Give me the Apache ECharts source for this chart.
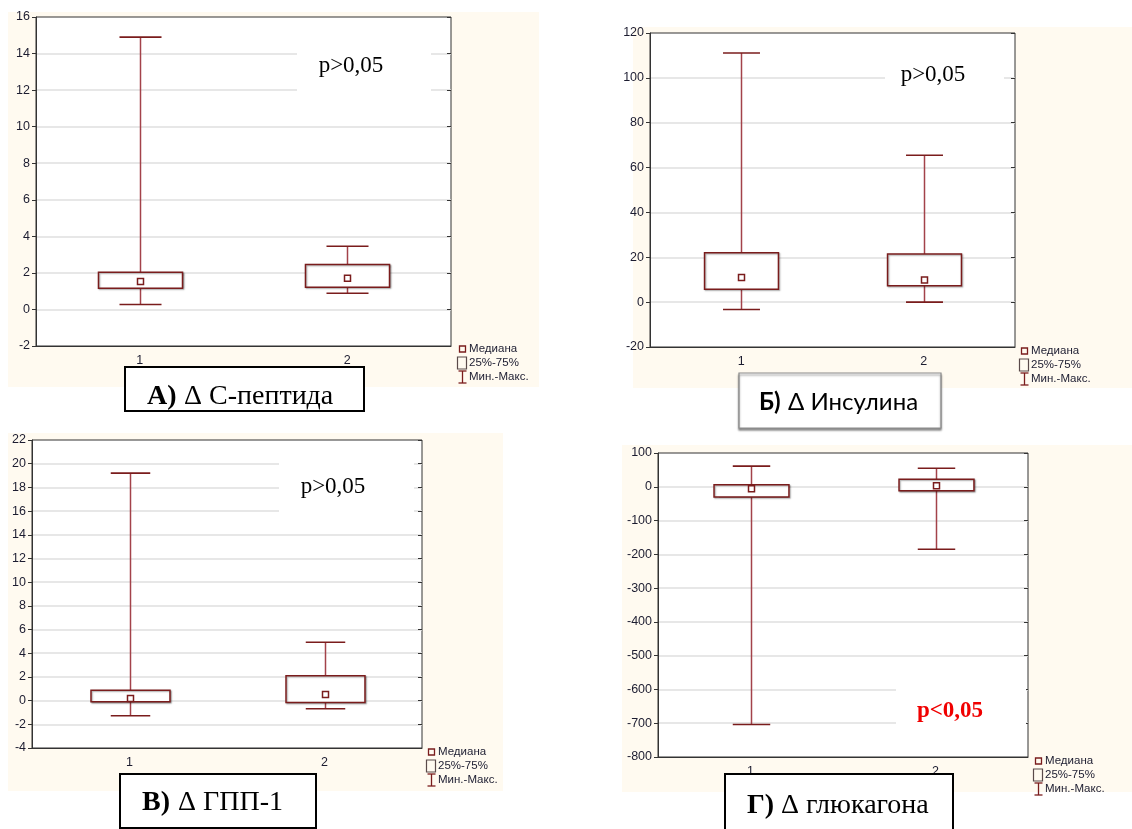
<!DOCTYPE html>
<html><head><meta charset="utf-8">
<script src="https://cdn.jsdelivr.net/npm/echarts@6/dist/echarts.min.js"></script>
<style>html,body{margin:0;padding:0;background:#fff}#c{width:1132px;height:829px}</style>
</head><body><div id="c"></div>
<script>
// ---- data ----
const categories = ['1', '2'];

// А) Δ С-пептида
const aMin = [0.27, 0.89];
const aQ1  = [1.16, 1.22];
const aMed = [1.53, 1.71];
const aQ3  = [2.04, 2.46];
const aMax = [14.9, 3.46];
const aAxis = [-2, 16, 2]; // min, max, interval

// Б) Δ Инсулина
const bMin = [-3.3, 0.0];
const bQ1  = [5.8, 7.3];
const bMed = [11.0, 9.9];
const bQ3  = [22.0, 21.5];
const bMax = [111.1, 65.5];
const bAxis = [-20, 120, 20];

// В) Δ ГПП-1
const vMin = [-1.28, -0.69];
const vQ1  = [-0.1, -0.16];
const vMed = [0.18, 0.51];
const vQ3  = [0.88, 2.09];
const vMax = [19.2, 4.93];
const vAxis = [-4, 22, 2];

// Г) Δ глюкагона
const gMin = [-704, -185];
const gQ1  = [-30.5, -11.6];
const gMed = [-5.6, 3];
const gQ3  = [6, 22];
const gMax = [61, 55];
const gAxis = [-800, 100, 100];

const legendLabels = ['Медиана', '25%-75%', 'Мин.-Макс.'];
const pTexts = ['p>0,05', 'p>0,05', 'p>0,05', 'p<0,05'];
const titleLetters = ['А)', 'Б)', 'В)', 'Г)'];
const titleNames = ['Δ С-пептида', 'Δ Инсулина', 'Δ ГПП-1', 'Δ глюкагона'];

// ---- layout / style ----
const BOX = '#7a1c1c', WH = '#a3424a', LBL = '#1c1c30';
const SANS = '"Liberation Sans", Arial, sans-serif';
const SERIF = '"Liberation Serif", "Times New Roman", serif';
const panels = [
  {d:[aMin,aQ1,aMed,aQ3,aMax], ax:aAxis, grid:{left:36,top:17,width:415,height:329},
   bg:[8,12,531,375], mask:[297,42,134,60], pPos:[351,66], pStyle:{fill:'#000',fontWeight:'normal'},
   leg:[459,349], title:{box:[125,367,239,44], y:397, x1:147, x2:184, style:'serif'}},
  {d:[bMin,bQ1,bMed,bQ3,bMax], ax:bAxis, grid:{left:650,top:33,width:365,height:314},
   bg:[633,27,499,361], mask:[885,55,119,45], pPos:[933,75], pStyle:{fill:'#000',fontWeight:'normal'},
   leg:[1021,351], title:{box:[739,373,202,55], y:402, x1:759, x2:788, style:'sans'}},
  {d:[vMin,vQ1,vMed,vQ3,vMax], ax:vAxis, grid:{left:32,top:440,width:390,height:308},
   bg:[8,433,495,358], mask:[279,452,135,66], pPos:[333,487], pStyle:{fill:'#000',fontWeight:'normal'},
   leg:[428,752], title:{box:[120,774,196,54], y:803, x1:142, x2:178, style:'serif'}},
  {d:[gMin,gQ1,gMed,gQ3,gMax], ax:gAxis, grid:{left:658,top:453,width:370,height:304},
   bg:[622,445,510,347], mask:[896,676,130,64], pPos:[950,711], pStyle:{fill:'#f00000',fontWeight:'bold'},
   leg:[1035,761], title:{box:[725,774,228,60], y:806, x1:747, x2:781, style:'serif'}}
];

function renderBox(params, api) {
  const x = api.value(0);
  const mn = api.value(1), q1 = api.value(2), md = api.value(3), q3 = api.value(4), mx = api.value(5);
  const pMax = api.coord([x, mx]), pQ3 = api.coord([x, q3]), pMd = api.coord([x, md]);
  const pQ1 = api.coord([x, q1]), pMin = api.coord([x, mn]);
  const bw = api.size([1, 0])[0] * 0.405;
  const cw = bw * 0.5;
  const cx = Math.round(pMax[0]) + 0.5;
  const ls = {stroke: WH, lineWidth: 1.5};
  return {type: 'group', children: [
    {type:'line', shape:{x1:cx,y1:pMax[1],x2:cx,y2:pQ3[1]}, style:ls},
    {type:'line', shape:{x1:cx,y1:pQ1[1],x2:cx,y2:pMin[1]}, style:ls},
    {type:'line', shape:{x1:cx-cw/2,y1:pMax[1],x2:cx+cw/2,y2:pMax[1]}, style:{stroke:BOX,lineWidth:1.6}},
    {type:'line', shape:{x1:cx-cw/2,y1:pMin[1],x2:cx+cw/2,y2:pMin[1]}, style:{stroke:BOX,lineWidth:1.6}},
    {type:'rect', shape:{x:cx-bw/2,y:pQ3[1],width:bw,height:pQ1[1]-pQ3[1]},
     style:{fill:'#fff',stroke:BOX,lineWidth:1.5,shadowColor:'rgba(0,0,0,0.35)',shadowBlur:1.5,shadowOffsetX:1,shadowOffsetY:1}},
    {type:'rect', shape:{x:cx-3,y:pMd[1]-3,width:6,height:6}, style:{fill:'#fff',stroke:BOX,lineWidth:1.5}}
  ]};
}

const grid = [], xAxis = [], yAxis = [], series = [], graphic = [];
panels.forEach((p, i) => {
  grid.push(Object.assign({show:true, backgroundColor:'#fff', borderColor:'#333', borderWidth:1, z:3}, p.grid));
  xAxis.push({type:'category', data:categories, gridIndex:i, z:5,
    axisLine:{onZero:false, lineStyle:{color:'#333'}},
    axisTick:{alignWithLabel:true, length:4, lineStyle:{color:'#333'}},
    axisLabel:{color:LBL, fontFamily:SANS, fontSize:12.5, margin:8}});
  xAxis.push({type:'category', data:categories, gridIndex:i, position:'top', z:5,
    axisLine:{show:false}, axisTick:{alignWithLabel:true, inside:true, length:4, lineStyle:{color:'#333'}},
    axisLabel:{show:false}});
  yAxis.push({type:'value', gridIndex:i, min:p.ax[0], max:p.ax[1], interval:p.ax[2], z:5,
    axisLine:{show:true, lineStyle:{color:'#333'}},
    axisTick:{show:true, length:4, lineStyle:{color:'#333'}},
    axisLabel:{color:LBL, fontFamily:SANS, fontSize:12.5, margin:6},
    splitLine:{show:true, showMinLine:false, showMaxLine:false, lineStyle:{color:'#dfdfdf', width:1.7}}});
  yAxis.push({type:'value', gridIndex:i, min:p.ax[0], max:p.ax[1], interval:p.ax[2], position:'right', z:5,
    axisLine:{show:false}, axisTick:{show:true, inside:true, length:4, lineStyle:{color:'#333'}},
    axisLabel:{show:false}, splitLine:{show:false}});
  const [mn, q1, md, q3, mx] = p.d;
  series.push({type:'custom', xAxisIndex:2*i, yAxisIndex:2*i, z:10, renderItem:renderBox,
    encode:{x:0, y:[1,2,3,4,5]}, clip:false,
    data: categories.map((c, k) => [k, mn[k], q1[k], md[k], q3[k], mx[k]])});

  // backgrounds
  graphic.push({type:'rect', z:1, silent:true, shape:{x:p.bg[0],y:p.bg[1],width:p.bg[2],height:p.bg[3]}, style:{fill:'#fffaf0'}});
  // p-value label with white mask
  graphic.push({type:'rect', z:7, silent:true, shape:{x:p.mask[0],y:p.mask[1],width:p.mask[2],height:p.mask[3]}, style:{fill:'#fff'}});
  graphic.push({type:'text', z:8, x:p.pPos[0], y:p.pPos[1], style:{text:pTexts[i], fontFamily:SERIF, fontSize:23,
    fontWeight:p.pStyle.fontWeight, fill:p.pStyle.fill, align:'center', verticalAlign:'middle'}});
  // legend
  const lx = p.leg[0], ly = p.leg[1];
  graphic.push({type:'rect', z:8, shape:{x:lx+0.5,y:ly-3,width:6,height:6}, style:{fill:'none',stroke:BOX,lineWidth:1.3}});
  graphic.push({type:'rect', z:8, shape:{x:lx-1.5,y:ly+14-6,width:9,height:12}, style:{fill:'none',stroke:'#5a4a4a',lineWidth:1.2}});
  graphic.push({type:'line', z:8, shape:{x1:lx+3.5,y1:ly+28-6,x2:lx+3.5,y2:ly+28+6}, style:{stroke:BOX,lineWidth:1.3}});
  graphic.push({type:'line', z:8, shape:{x1:lx-0.5,y1:ly+28-6,x2:lx+7.5,y2:ly+28-6}, style:{stroke:BOX,lineWidth:1.3}});
  graphic.push({type:'line', z:8, shape:{x1:lx-0.5,y1:ly+28+6,x2:lx+7.5,y2:ly+28+6}, style:{stroke:BOX,lineWidth:1.3}});
  legendLabels.forEach((t, k) => {
    graphic.push({type:'text', z:8, x:lx+10, y:ly+k*14, style:{text:t, fontFamily:SANS, fontSize:11.5, fill:LBL, verticalAlign:'middle'}});
  });
  // title box
  const tb = p.title.box;
  const isSans = p.title.style === 'sans';
  graphic.push({type:'rect', z:20, shape:{x:tb[0],y:tb[1],width:tb[2],height:tb[3]},
    style: isSans ? {fill:'#fff', stroke:'#8c8c8c', lineWidth:1.2, shadowColor:'rgba(0,0,0,0.45)', shadowBlur:2, shadowOffsetY:2}
                  : {fill:'#fff', stroke:'#000', lineWidth:2}});
  const fam = isSans ? 'Lato, "Open Sans", sans-serif' : SERIF;
  const fs = isSans ? 24 : 28;
  graphic.push({type:'text', z:21, x:p.title.x1, y:p.title.y,
    style:{text:titleLetters[i], fontFamily:fam, fontSize:fs, fontWeight:'bold', fill:'#000', align:'left', verticalAlign:'middle'}});
  graphic.push({type:'text', z:21, x:p.title.x2, y:p.title.y,
    style:{text:titleNames[i], fontFamily:fam, fontSize:fs, fontWeight:'normal', fill:'#000', align:'left', verticalAlign:'middle'}});
});

const chart = echarts.init(document.getElementById('c'), null, {renderer:'canvas'});
chart.setOption({backgroundColor:'#fff', animation:false, grid, xAxis, yAxis, series, graphic});
</script></body></html>
